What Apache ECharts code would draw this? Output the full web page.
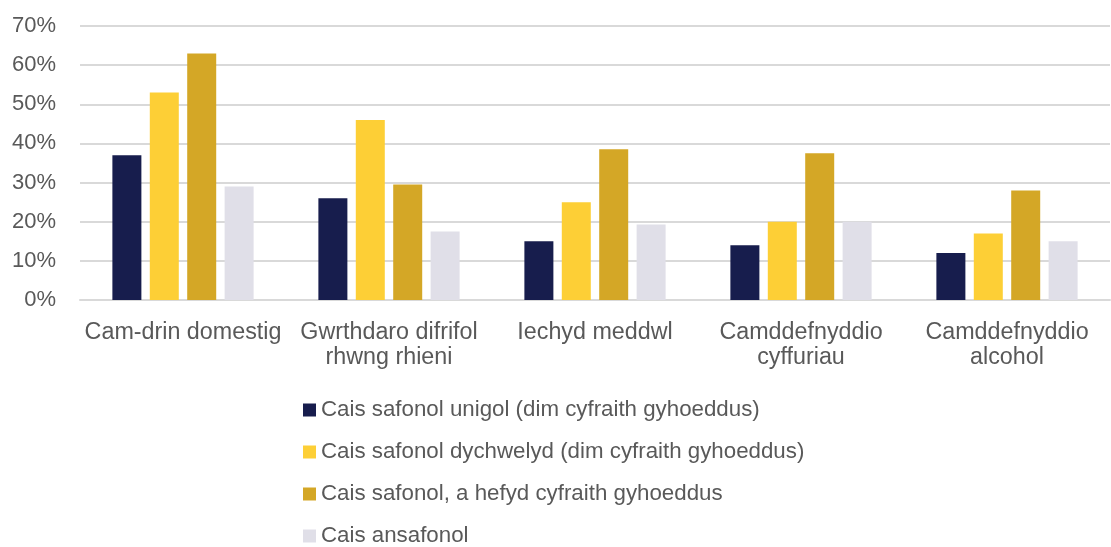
<!DOCTYPE html>
<html><head><meta charset="utf-8">
<script src="https://cdn.jsdelivr.net/npm/echarts@6/dist/echarts.min.js"></script>
<style>html,body{margin:0;padding:0;background:#fff}#c{width:1111px;height:547px}</style>
</head><body><div id="c"></div>
<script>
const categories = ["Cam-drin domestig", "Gwrthdaro difrifol\nrhwng rhieni", "Iechyd meddwl", "Camddefnyddio\ncyffuriau", "Camddefnyddio\nalcohol"];
const seriesNames = ["Cais safonol unigol (dim cyfraith gyhoeddus)", "Cais safonol dychwelyd (dim cyfraith gyhoeddus)", "Cais safonol, a hefyd cyfraith gyhoeddus", "Cais ansafonol"];
const unigol = [37, 26, 15, 14, 12];
const dychwelyd = [53, 46, 25, 20, 17];
const cyfraith = [63, 29.5, 38.5, 37.5, 28];
const ansafonol = [29, 17.5, 19.3, 20, 15];
const colors = ["#171D4D", "#FDCF36", "#D4A726", "#E0DFE8"];
const values = [unigol, dychwelyd, cyfraith, ansafonol];

const chart = echarts.init(document.getElementById('c'));
chart.setOption({
  animation: false,
  textStyle: {fontFamily: "'Liberation Sans', Arial, sans-serif"},
  grid: {left: 80, right: 1, top: 26, bottom: 247, containLabel: false},
  legend: {
    orient: 'vertical', left: 298, top: 393, height: 220,
    itemWidth: 13, itemHeight: 13, itemGap: 18,
    icon: 'rect',
    textStyle: {fontSize: 22.3, color: '#595959', lineHeight: 24, padding: [0, 0, 0, 0]},
    data: seriesNames
  },
  xAxis: {
    type: 'category', data: categories,
    axisLine: {show: true, lineStyle: {color: '#D9D9D9', width: 2}},
    axisTick: {show: false},
    axisLabel: {fontSize: 23.3, color: '#595959', margin: 20, lineHeight: 25, interval: 0}
  },
  yAxis: {
    type: 'value', min: 0, max: 70, interval: 10,
    axisLine: {show: false}, axisTick: {show: false},
    splitLine: {lineStyle: {color: '#D9D9D9', width: 2}},
    axisLabel: {fontSize: 22, color: '#595959', margin: 24, formatter: '{value}%'}
  },
  series: seriesNames.map((n, i) => ({
    name: n, type: 'bar', data: values[i],
    barWidth: 29, barGap: '29%',
    itemStyle: {color: colors[i]}
  }))
});
</script></body></html>
